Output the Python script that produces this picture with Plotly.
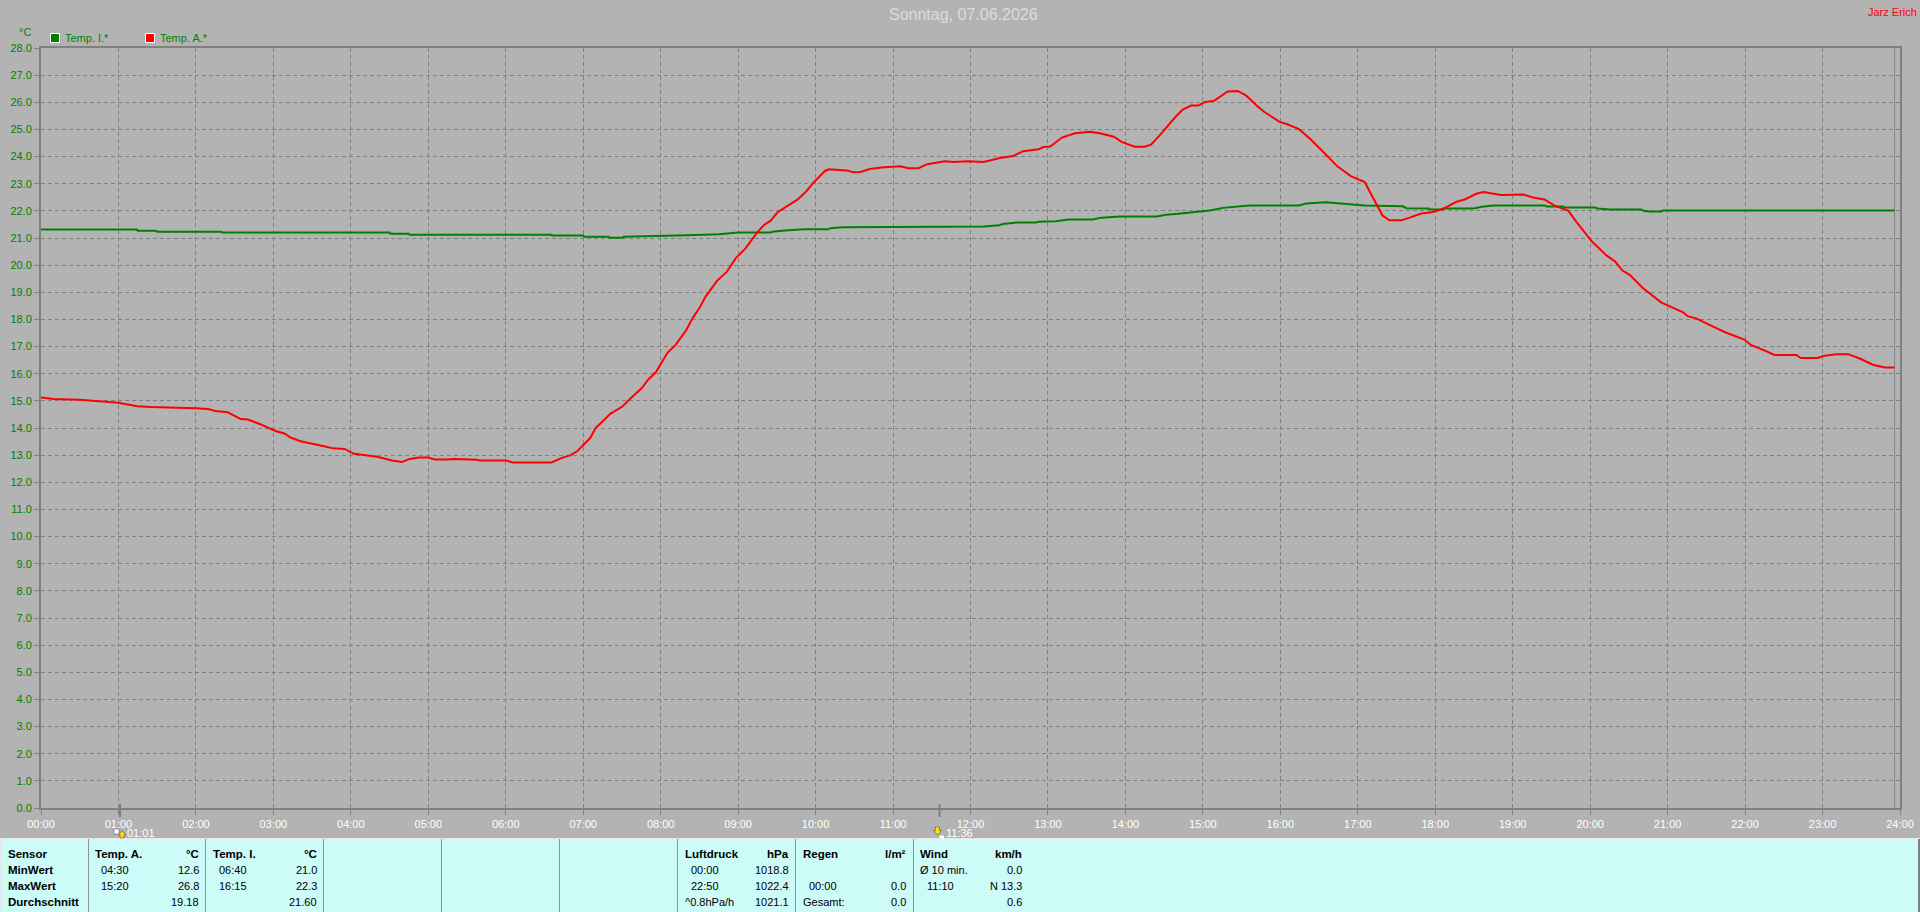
import plotly.graph_objects as go

# ---- data ----
hour_labels = ["%02d:00" % h for h in range(25)]
hour_ticks = list(range(25))
temp_ticks = list(range(29))
temp_labels = ["%.1f" % t for t in temp_ticks]

red_hours = [0.00,0.16,0.50,0.75,1.00,1.24,1.42,2.00,2.16,2.25,2.41,2.58,2.67,2.83,3.02,3.15,3.22,3.35,3.52,3.67,3.77,3.92,4.04,4.16,4.34,4.53,4.66,4.76,4.88,5.00,5.08,5.25,5.33,5.62,5.67,6.01,6.09,6.47,6.59,6.71,
    6.84,6.93,7.09,7.16,7.35,7.51,7.59,7.76,7.84,7.94,8.09,8.19,8.33,8.41,8.51,8.58,8.73,8.85,8.97,9.09,9.24,9.33,9.42,9.51,9.67,9.77,9.89,9.97,10.12,10.17,10.40,10.49,10.58,10.70,10.85,11.00,11.09,11.20,11.33,11.44,11.67,11.78,11.97,12.17,12.38,12.55,12.68,12.88,12.94,13.03,13.18,13.35,13.48,13.54,13.67,13.85,13.95,14.12,14.25,14.33,14.44,14.53,14.64,14.74,14.85,14.94,15.02,15.15,15.32,15.45,15.56,15.71,15.79,15.99,16.09,16.24,16.39,16.52,16.74,16.91,17.09,
    17.15,17.26,17.32,17.41,17.56,17.67,17.82,17.95,18.10,18.27,18.38,18.53,18.62,18.85,19.09,19.14,19.26,19.41,19.54,19.72,19.81,19.95,20.02,20.21,20.32,20.42,20.51,20.68,20.92,21.00,21.20,21.26,21.37,21.54,21.75,21.99,22.08,22.27,22.38,22.66,22.72,22.94,23.01,23.18,23.33,23.48,23.65,23.80,23.93]
red_temps = [15.12,15.07,15.04,14.99,14.93,14.80,14.77,14.73,14.70,14.63,14.58,14.33,14.31,14.14,13.90,13.79,13.65,13.51,13.42,13.32,13.25,13.23,13.05,13.00,12.94,12.80,12.75,12.86,12.91,12.91,12.84,12.84,12.86,12.83,12.80,12.80,12.73,12.73,12.73,12.88,
    13.00,13.16,13.63,14.00,14.52,14.80,15.03,15.48,15.79,16.06,16.78,17.05,17.60,18.03,18.47,18.84,19.43,19.74,20.26,20.60,21.18,21.47,21.64,21.95,22.23,22.42,22.75,23.03,23.47,23.53,23.49,23.42,23.43,23.54,23.60,23.61,23.64,23.57,23.57,23.72,23.83,23.80,23.83,23.80,23.95,24.02,24.20,24.27,24.35,24.37,24.70,24.86,24.88,24.91,24.86,24.73,24.54,24.36,24.36,24.44,24.77,25.07,25.44,25.73,25.88,25.88,26.00,26.06,26.40,26.42,26.25,25.84,25.65,25.28,25.19,25.01,24.64,24.27,23.63,23.28,23.06,
    22.73,22.11,21.83,21.65,21.65,21.75,21.90,21.95,22.07,22.33,22.42,22.63,22.69,22.58,22.58,22.60,22.49,22.42,22.19,22.00,21.64,21.12,20.88,20.36,20.14,19.79,19.64,19.16,18.62,18.52,18.26,18.12,18.04,17.80,17.52,17.26,17.05,16.83,16.69,16.69,16.58,16.58,16.65,16.72,16.72,16.56,16.33,16.23,16.23]

green_hours = [0.00,1.24,1.25,1.49,1.50,2.33,2.34,4.50,4.51,4.75,4.76,6.59,6.60,7.00,7.01,7.33,7.34,7.51,7.52,7.85,8.34,8.75,9.00,9.42,9.44,9.60,9.85,10.17,10.19,10.35,10.75,10.77,11.09,12.17,12.37,12.42,12.60,12.85,12.87,13.10,13.27,13.58,13.69,13.93,14.40,14.53,14.68,14.90,15.09,15.26,15.43,15.60,16.24,16.33,16.59,16.74,16.91,17.09,17.58,17.63,17.92,17.94,18.08,18.10,18.50,18.60,18.75,19.41,19.44,19.65,19.67,20.06,20.10,20.25,20.66,20.68,20.75,20.92,20.94,23.93]
green_temps = [21.31,21.31,21.27,21.27,21.23,21.23,21.20,21.20,21.16,21.16,21.12,21.12,21.09,21.09,21.05,21.05,21.01,21.01,21.05,21.06,21.10,21.14,21.20,21.20,21.23,21.28,21.32,21.32,21.36,21.40,21.40,21.42,21.42,21.42,21.47,21.52,21.57,21.57,21.60,21.62,21.68,21.68,21.75,21.79,21.79,21.86,21.89,21.96,22.01,22.11,22.16,22.20,22.20,22.27,22.32,22.28,22.25,22.20,22.17,22.10,22.09,22.05,22.05,22.09,22.09,22.15,22.20,22.20,22.16,22.16,22.12,22.12,22.09,22.05,22.05,22.01,21.98,21.98,22.01,22.01]

series_names = ["Temp. I.*", "Temp. A.*"]
data_end_hour = 23.93
sunrise_hour, sunset_hour = 1.02, 11.6
sunrise_label, sunset_label = "01:01", "11:36"

title_text = "Sonntag, 07.06.2026"
owner_text = "Jarz Erich"

sensor_rows = ["Sensor", "MinWert", "MaxWert", "Durchschnitt"]
temp_a = ["Temp. A.", "°C", "04:30", "12.6", "15:20", "26.8", "19.18"]
temp_i = ["Temp. I.", "°C", "06:40", "21.0", "16:15", "22.3", "21.60"]
pressure = ["Luftdruck", "hPa", "00:00", "1018.8", "22:50", "1022.4", "^0.8hPa/h", "1021.1"]
rain = ["Regen", "l/m²", "00:00", "0.0", "Gesamt:", "0.0"]
wind = ["Wind", "km/h", "Ø 10 min.", "0.0", "11:10", "N 13.3", "0.6"]

# ---- page geometry and styles ----
W, H = 1920, 912
L, R, T, B = 41, 1900, 48, 808
BG, GRID, PANEL = "#b3b3b3", "#808080", "#ccfbf8"
GREEN, RED = "#008000", "#ff0000"
SANS = "Liberation Sans, Arial, sans-serif"
ROWS = [854, 870, 886, 902]

def px(x):
    return (x - L) / (R - L)

def py(y):
    return (B - y) / (B - T)

annotations, shapes = [], []

def label(text, x, y, anchor="left", color="black", size=11, bold=False):
    annotations.append(dict(
        text="<b>%s</b>" % text if bold else text,
        x=px(x), y=py(y), xref="paper", yref="paper",
        xanchor=anchor, yanchor="middle", showarrow=False,
        borderpad=0, borderwidth=0,
        font=dict(family=SANS, size=size, color=color)))

def rect(x0, y0, x1, y1, fill, line=None, width=0):
    shapes.append(dict(type="rect", xref="paper", yref="paper",
                       x0=px(x0), x1=px(x1), y0=py(y0), y1=py(y1),
                       fillcolor=fill, line=dict(color=line or fill, width=width), layer="above"))

def poly(points, fill, line="#404040", width=0.5):
    path = "M" + " L".join("%.5f,%.5f" % (px(a), py(b)) for a, b in points) + " Z"
    shapes.append(dict(type="path", path=path, xref="paper", yref="paper",
                       fillcolor=fill, line=dict(color=line, width=width), layer="above"))

# titles
label(title_text, 963, 15, "center", "#dcdcdc", 16)
label(owner_text, 1917, 12, "right", RED, 11)
label("°C", 25, 32, "center", GREEN, 11)

# legend
rect(50.5, 33.5, 59.5, 42.5, GREEN, "white", 1)
label(series_names[0], 65, 38, "left", GREEN, 11)
rect(145.5, 33.5, 154.5, 42.5, RED, "white", 1)
label(series_names[1], 160, 38, "left", GREEN, 11)

# bottom panel
rect(0, 838, W, H, "#e8e8e8")
rect(1, 839, 1918, H, PANEL)
rect(1918, 839, W, H, GRID)
for sep in [88.5, 205.5, 323.5, 441.5, 559.5, 677.5, 795.5, 913.5]:
    rect(sep - 0.5, 839, sep + 0.5, H, "#909090")

# panel text
for y, text in zip(ROWS, sensor_rows):
    label(text, 8, y, bold=True, size=11.5)

def header(name, unit, left, right):
    label(name, left, ROWS[0], bold=True, size=11.5)
    label(unit, right, ROWS[0], "right", bold=True, size=11.5)

header(temp_a[0], temp_a[1], 95, 198.5)
label(temp_a[2], 100.5, ROWS[1]); label(temp_a[3], 198.5, ROWS[1], "right")
label(temp_a[4], 100.5, ROWS[2]); label(temp_a[5], 198.5, ROWS[2], "right")
label(temp_a[6], 198.5, ROWS[3], "right")

header(temp_i[0], temp_i[1], 213, 316.5)
label(temp_i[2], 218.5, ROWS[1]); label(temp_i[3], 316.5, ROWS[1], "right")
label(temp_i[4], 218.5, ROWS[2]); label(temp_i[5], 316.5, ROWS[2], "right")
label(temp_i[6], 316.5, ROWS[3], "right")

header(pressure[0], pressure[1], 684.5, 788.5)
label(pressure[2], 690.5, ROWS[1]); label(pressure[3], 788.5, ROWS[1], "right")
label(pressure[4], 690.5, ROWS[2]); label(pressure[5], 788.5, ROWS[2], "right")
label(pressure[6], 685, ROWS[3]); label(pressure[7], 788.5, ROWS[3], "right")

header(rain[0], rain[1], 802.5, 906)
label(rain[2], 808.5, ROWS[2]); label(rain[3], 906, ROWS[2], "right")
label(rain[4], 802.5, ROWS[3]); label(rain[5], 906, ROWS[3], "right")

header(wind[0], wind[1], 920, 1022)
label(wind[2], 920, ROWS[1]); label(wind[3], 1022, ROWS[1], "right")
label(wind[4], 926.5, ROWS[2]); label(wind[5], 1022, ROWS[2], "right")
label(wind[6], 1022, ROWS[3], "right")

# end-of-data line and sun marks on the time axis
shapes.append(dict(type="line", xref="x", yref="paper", x0=data_end_hour, x1=data_end_hour,
                   y0=0, y1=1, line=dict(color=GRID, width=1), layer="below"))
for h in (sunrise_hour, sunset_hour):
    shapes.append(dict(type="line", xref="x", yref="paper", x0=h, x1=h,
                       y0=py(804), y1=py(817), line=dict(color=GRID, width=2), layer="above"))
label(sunrise_label, 127, 833, "left", "white", 11)
label(sunset_label, 946, 833, "left", "white", 11)
poly([(120, 838), (120, 835), (118.5, 835), (122, 830.5), (125.5, 835), (124, 835), (124, 838)], "#ffe000")
rect(114, 829, 119, 834, "white", "#4040a0", 0.5)
poly([(935.5, 827), (935.5, 830.5), (933.5, 830.5), (937.5, 835), (941.5, 830.5), (939.5, 830.5), (939.5, 827)], "#ffe000")
rect(939.5, 835.5, 944, 838.5, "white")

# ---- figure ----
fig = go.Figure()
fig.add_trace(go.Scatter(x=green_hours, y=green_temps, name=series_names[0], mode="lines",
                         line=dict(color=GREEN, width=2)))
fig.add_trace(go.Scatter(x=red_hours, y=red_temps, name=series_names[1], mode="lines",
                         line=dict(color=RED, width=2)))
fig.update_layout(
    width=W, height=H, showlegend=False,
    paper_bgcolor=BG, plot_bgcolor=BG,
    margin=dict(l=L, r=W - R, t=T, b=H - B, pad=0, autoexpand=False),
    font=dict(family=SANS, size=11),
    annotations=annotations, shapes=shapes,
    xaxis=dict(range=[0, 24], tickmode="array", tickvals=hour_ticks, ticktext=hour_labels,
               automargin=False,
               showgrid=True, gridcolor=GRID, gridwidth=1, griddash="4px,3px",
               zeroline=False, showline=True, mirror=True, linecolor=GRID, linewidth=2,
               ticks="outside", ticklen=5, tickcolor=GRID, tickwidth=1,
               tickfont=dict(family=SANS, size=11, color="white"), tickangle=0),
    yaxis=dict(range=[0, 28], tickmode="array", tickvals=temp_ticks, ticktext=temp_labels,
               automargin=False,
               showgrid=True, gridcolor=GRID, gridwidth=1, griddash="4px,3px",
               zeroline=False, showline=True, mirror=True, linecolor=GRID, linewidth=2,
               ticks="outside", ticklen=5, tickcolor=GRID, tickwidth=1,
               tickfont=dict(family=SANS, size=11, color=GREEN)),
)
fig.write_html("out.html", config=dict(displayModeBar=False),
               post_script="document.body.style.margin='0';document.body.style.overflow='hidden';")
